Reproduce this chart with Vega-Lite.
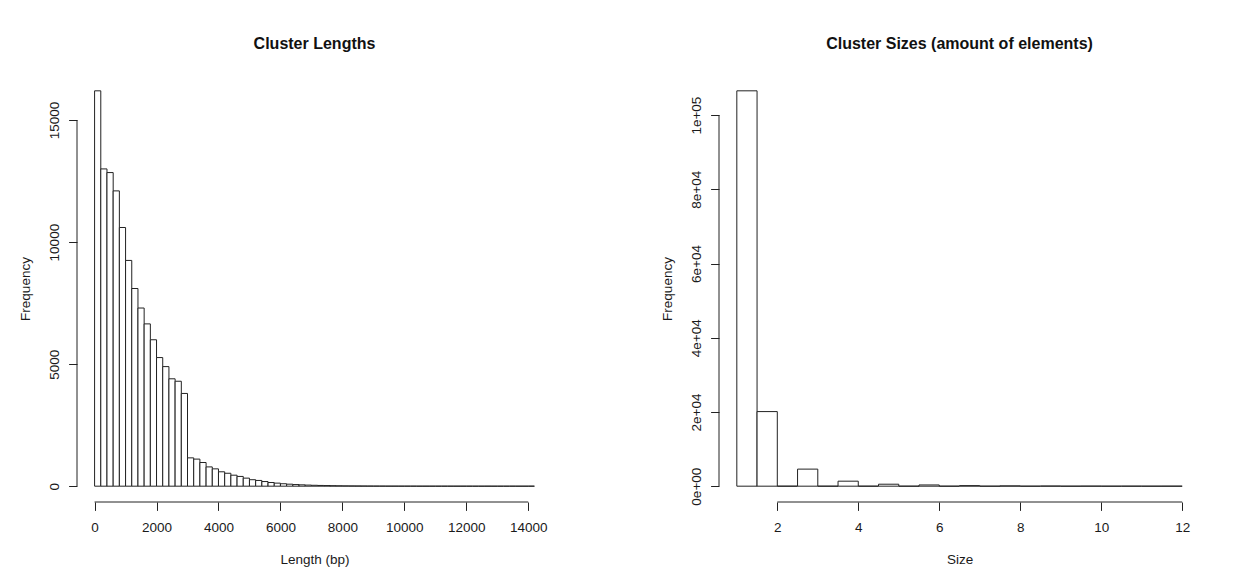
{
  "$schema": "https://vega.github.io/schema/vega-lite/v6.json",
  "background": "white",
  "padding": {"left": 18, "top": 36, "right": 5, "bottom": 5},
  "spacing": 108,
  "config": {
    "view": {"stroke": null},
    "font": "Liberation Sans",
    "axis": {
      "domain": false, "grid": false, "tickSize": 8.4, "tickColor": "#222", "tickWidth": 1,
      "labelFont": "Liberation Sans", "labelFontSize": 13.5, "labelColor": "#1a1a1a",
      "titleFont": "Liberation Sans", "titleFontSize": 13.5, "titleFontWeight": "normal", "titleColor": "#1a1a1a",
      "labelFlush": false, "labelOverlap": false
    },
    "axisX": {"labelPadding": 10.5, "titlePadding": 18},
    "axisY": {"labelAngle": -90, "labelAlign": "center", "labelBaseline": "alphabetic", "labelPadding": 10, "titlePadding": 15},
    "title": {"font": "Liberation Sans", "fontSize": 16, "fontWeight": "bold", "color": "#111", "baseline": "alphabetic", "offset": 23, "anchor": "middle"}
  },
  "datasets": {
    "lengths": [
      {"start": 0, "end": 200, "count": 16200},
      {"start": 200, "end": 400, "count": 13000},
      {"start": 400, "end": 600, "count": 12850},
      {"start": 600, "end": 800, "count": 12100},
      {"start": 800, "end": 1000, "count": 10600},
      {"start": 1000, "end": 1200, "count": 9250},
      {"start": 1200, "end": 1400, "count": 8100},
      {"start": 1400, "end": 1600, "count": 7300},
      {"start": 1600, "end": 1800, "count": 6650},
      {"start": 1800, "end": 2000, "count": 6000},
      {"start": 2000, "end": 2200, "count": 5270},
      {"start": 2200, "end": 2400, "count": 4900},
      {"start": 2400, "end": 2600, "count": 4400},
      {"start": 2600, "end": 2800, "count": 4300},
      {"start": 2800, "end": 3000, "count": 3800},
      {"start": 3000, "end": 3200, "count": 1160},
      {"start": 3200, "end": 3400, "count": 1110},
      {"start": 3400, "end": 3600, "count": 970},
      {"start": 3600, "end": 3800, "count": 790},
      {"start": 3800, "end": 4000, "count": 710},
      {"start": 4000, "end": 4200, "count": 590},
      {"start": 4200, "end": 4400, "count": 530},
      {"start": 4400, "end": 4600, "count": 450},
      {"start": 4600, "end": 4800, "count": 400},
      {"start": 4800, "end": 5000, "count": 330},
      {"start": 5000, "end": 5200, "count": 265},
      {"start": 5200, "end": 5400, "count": 235},
      {"start": 5400, "end": 5600, "count": 190},
      {"start": 5600, "end": 5800, "count": 150},
      {"start": 5800, "end": 6000, "count": 125},
      {"start": 6000, "end": 6200, "count": 100},
      {"start": 6200, "end": 6400, "count": 82},
      {"start": 6400, "end": 6600, "count": 66},
      {"start": 6600, "end": 6800, "count": 55},
      {"start": 6800, "end": 7000, "count": 45},
      {"start": 7000, "end": 7200, "count": 37},
      {"start": 7200, "end": 7400, "count": 30},
      {"start": 7400, "end": 7600, "count": 25},
      {"start": 7600, "end": 7800, "count": 20},
      {"start": 7800, "end": 8000, "count": 16},
      {"start": 8000, "end": 8200, "count": 13},
      {"start": 8200, "end": 8400, "count": 11},
      {"start": 8400, "end": 8600, "count": 9},
      {"start": 8600, "end": 8800, "count": 7},
      {"start": 8800, "end": 9000, "count": 6},
      {"start": 9000, "end": 9200, "count": 5},
      {"start": 9200, "end": 9400, "count": 4},
      {"start": 9400, "end": 9600, "count": 3},
      {"start": 9600, "end": 9800, "count": 3},
      {"start": 9800, "end": 10000, "count": 2},
      {"start": 10000, "end": 10200, "count": 2},
      {"start": 10200, "end": 10400, "count": 2},
      {"start": 10400, "end": 10600, "count": 1},
      {"start": 10600, "end": 10800, "count": 1},
      {"start": 10800, "end": 11000, "count": 1},
      {"start": 11000, "end": 11200, "count": 1},
      {"start": 11200, "end": 11400, "count": 1},
      {"start": 11400, "end": 11600, "count": 1},
      {"start": 11600, "end": 11800, "count": 1},
      {"start": 11800, "end": 12000, "count": 1},
      {"start": 12000, "end": 12200, "count": 1},
      {"start": 12200, "end": 12400, "count": 0},
      {"start": 12400, "end": 12600, "count": 0},
      {"start": 12600, "end": 12800, "count": 1},
      {"start": 12800, "end": 13000, "count": 0},
      {"start": 13000, "end": 13200, "count": 0},
      {"start": 13200, "end": 13400, "count": 0},
      {"start": 13400, "end": 13600, "count": 1},
      {"start": 13600, "end": 13800, "count": 0},
      {"start": 13800, "end": 14000, "count": 0},
      {"start": 14000, "end": 14200, "count": 1}
    ],
    "sizes": [
      {"start": 1.0, "end": 1.5, "count": 106540},
      {"start": 1.5, "end": 2.0, "count": 20100},
      {"start": 2.0, "end": 2.5, "count": 0},
      {"start": 2.5, "end": 3.0, "count": 4600},
      {"start": 3.0, "end": 3.5, "count": 0},
      {"start": 3.5, "end": 4.0, "count": 1350},
      {"start": 4.0, "end": 4.5, "count": 0},
      {"start": 4.5, "end": 5.0, "count": 530},
      {"start": 5.0, "end": 5.5, "count": 0},
      {"start": 5.5, "end": 6.0, "count": 330},
      {"start": 6.0, "end": 6.5, "count": 0},
      {"start": 6.5, "end": 7.0, "count": 150},
      {"start": 7.0, "end": 7.5, "count": 0},
      {"start": 7.5, "end": 8.0, "count": 80},
      {"start": 8.0, "end": 8.5, "count": 0},
      {"start": 8.5, "end": 9.0, "count": 40},
      {"start": 9.0, "end": 9.5, "count": 0},
      {"start": 9.5, "end": 10.0, "count": 20},
      {"start": 10.0, "end": 10.5, "count": 0},
      {"start": 10.5, "end": 11.0, "count": 10},
      {"start": 11.0, "end": 11.5, "count": 0},
      {"start": 11.5, "end": 12.0, "count": 5}
    ]
  },
  "hconcat": [
    {
      "width": 475,
      "height": 427,
      "title": {"text": "Cluster Lengths"},
      "data": {"name": "lengths"},
      "layer": [
        {
          "mark": {"type": "rect", "fill": "white", "stroke": "#222", "strokeWidth": 1},
          "encoding": {
            "x": {"field": "start", "type": "quantitative",
                  "scale": {"domain": [-568, 14768], "nice": false, "zero": false},
                  "axis": {"title": "Length (bp)", "values": [0, 2000, 4000, 6000, 8000, 10000, 12000, 14000], "format": "d"}},
            "x2": {"field": "end"},
            "y": {"field": "count", "type": "quantitative",
                  "scale": {"domain": [-648, 16848], "nice": false, "zero": false},
                  "axis": {"title": "Frequency", "values": [0, 5000, 10000, 15000], "format": "d"}},
            "y2": {"datum": 0}
          }
        },
        {
          "transform": [{"filter": "datum.start == 0"}],
          "mark": {"type": "rule", "color": "#222", "strokeWidth": 1},
          "encoding": {
            "x": {"datum": 0, "type": "quantitative"},
            "x2": {"datum": 14000},
            "y": {"datum": -648, "type": "quantitative"}
          }
        },
        {
          "transform": [{"filter": "datum.start == 0"}],
          "mark": {"type": "rule", "color": "#222", "strokeWidth": 1},
          "encoding": {
            "x": {"datum": -568, "type": "quantitative"},
            "y": {"datum": 0, "type": "quantitative"},
            "y2": {"datum": 15000}
          }
        }
      ]
    },
    {
      "width": 481,
      "height": 427,
      "title": {"text": "Cluster Sizes (amount of elements)"},
      "data": {"name": "sizes"},
      "layer": [
        {
          "mark": {"type": "rect", "fill": "white", "stroke": "#222", "strokeWidth": 1},
          "encoding": {
            "x": {"field": "start", "type": "quantitative",
                  "scale": {"domain": [0.56, 12.44], "nice": false, "zero": false},
                  "axis": {"title": "Size", "values": [2, 4, 6, 8, 10, 12], "format": "d"}},
            "x2": {"field": "end"},
            "y": {"field": "count", "type": "quantitative",
                  "scale": {"domain": [-4262, 110802], "nice": false, "zero": false},
                  "axis": {"title": "Frequency", "values": [0, 20000, 40000, 60000, 80000, 100000],
                           "labelExpr": "datum.value == 0 ? '0e+00' : (datum.value == 100000 ? '1e+05' : (datum.value / 10000) + 'e+04')"}},
            "y2": {"datum": 0}
          }
        },
        {
          "transform": [{"filter": "datum.start == 1"}],
          "mark": {"type": "rule", "color": "#222", "strokeWidth": 1},
          "encoding": {
            "x": {"datum": 2, "type": "quantitative"},
            "x2": {"datum": 12},
            "y": {"datum": -4262, "type": "quantitative"}
          }
        },
        {
          "transform": [{"filter": "datum.start == 1"}],
          "mark": {"type": "rule", "color": "#222", "strokeWidth": 1},
          "encoding": {
            "x": {"datum": 0.56, "type": "quantitative"},
            "y": {"datum": 0, "type": "quantitative"},
            "y2": {"datum": 100000}
          }
        }
      ]
    }
  ]
}
